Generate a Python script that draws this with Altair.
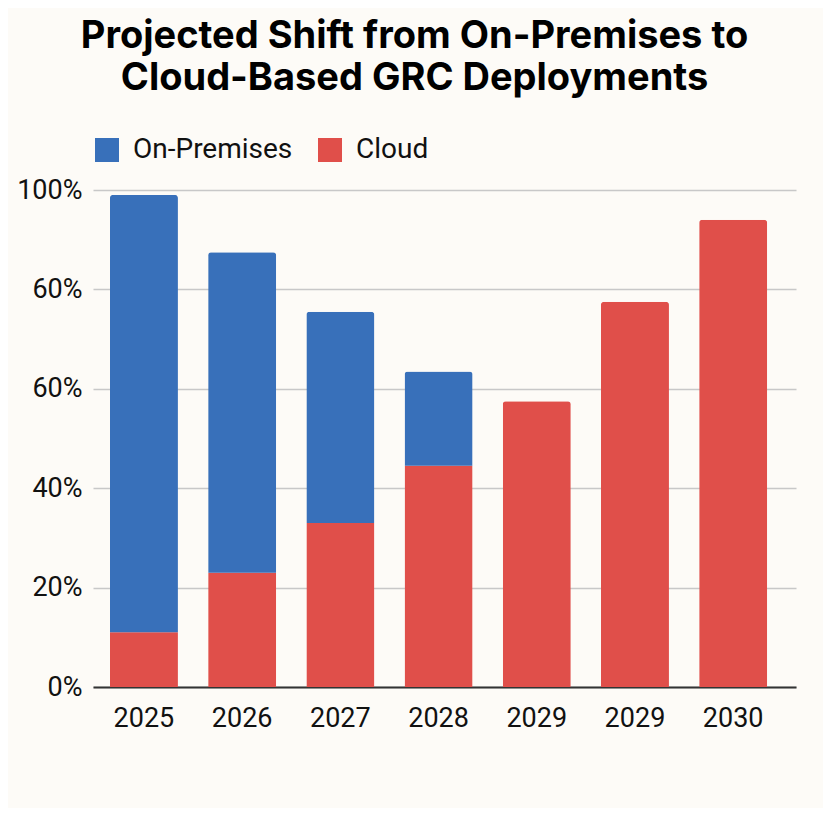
import altair as alt
import pandas as pd

# Data (percent of deployments)
slots = [0, 1, 2, 3, 4, 5, 6]
year_labels = ["2025", "2026", "2027", "2028", "2029", "2029", "2030"]
cloud = [11, 23, 33, 44.5, 57.5, 77.5, 94]
on_prem = [88, 64.5, 42.5, 19, 0, 0, 0]

y_ticks = [0, 20, 40, 60, 80, 100]
y_tick_labels = ["0%", "20%", "40%", "60%", "60%", "100%"]

series = ["On-Premises", "Cloud"]
colors = ["#3870ba", "#e04f4a"]

rows = []
for s, yr, c, p in zip(slots, year_labels, cloud, on_prem):
    rows.append({"slot": s, "year": yr, "type": "Cloud", "value": c, "rank": 0})
    if p > 0:
        rows.append({"slot": s, "year": yr, "type": "On-Premises", "value": p, "rank": 1})
df = pd.DataFrame(rows)

x_expr = "[" + ",".join(f"'{y}'" for y in year_labels) + "][datum.value]"
y_expr = "[" + ",".join(f"'{t}'" for t in y_tick_labels) + "][round(datum.value / 20)]"

chart = alt.Chart(df).mark_bar(
    cornerRadiusTopLeft=3,
    cornerRadiusTopRight=3,
).encode(
    x=alt.X("slot:O", title=None,
            scale=alt.Scale(paddingInner=0.3075, paddingOuter=0.233, align=0.37),
            axis=alt.Axis(labelExpr=x_expr, labelAngle=0, ticks=False,
                          domainColor="#333333", domainWidth=2,
                          labelPadding=18, grid=False)),
    y=alt.Y("value:Q", title=None, stack="zero",
            scale=alt.Scale(domain=[0, 100], nice=False),
            axis=alt.Axis(values=y_ticks, labelExpr=y_expr, domain=False,
                          ticks=False, labelPadding=11,
                          gridColor="#c8c8c8", gridWidth=1.5)),
    color=alt.Color("type:N", title=None,
                    scale=alt.Scale(domain=series, range=colors),
                    legend=alt.Legend(orient="none", legendX=0, legendY=-54,
                                      direction="horizontal",
                                      symbolType="square", symbolSize=576,
                                      symbolStrokeWidth=0,
                                      labelFontSize=28, labelOffset=12,
                                      columnPadding=23, labelColor="#111111")),
    order=alt.Order("rank:Q"),
).properties(
    width=703,
    height=497,
    autosize=alt.AutoSizeParams(type="none"),
    padding={"left": 85, "top": 182, "right": 27, "bottom": 121},
    title=alt.Title(
        ["Projected Shift from On-Premises to", "Cloud-Based GRC Deployments"],
        fontSize=38, fontWeight="bold", font="Inter", color="#000000",
        anchor="middle", frame="group", dx=-30, lineHeight=42.5, offset=38,
    ),
).configure(
    background="#fdfbf7",
    font="Roboto",
).configure_view(
    stroke=None,
).configure_axis(
    labelFontSize=27,
    labelColor="#111111",
)

chart.save("out.html", embed_options={"renderer": "svg", "actions": False})
